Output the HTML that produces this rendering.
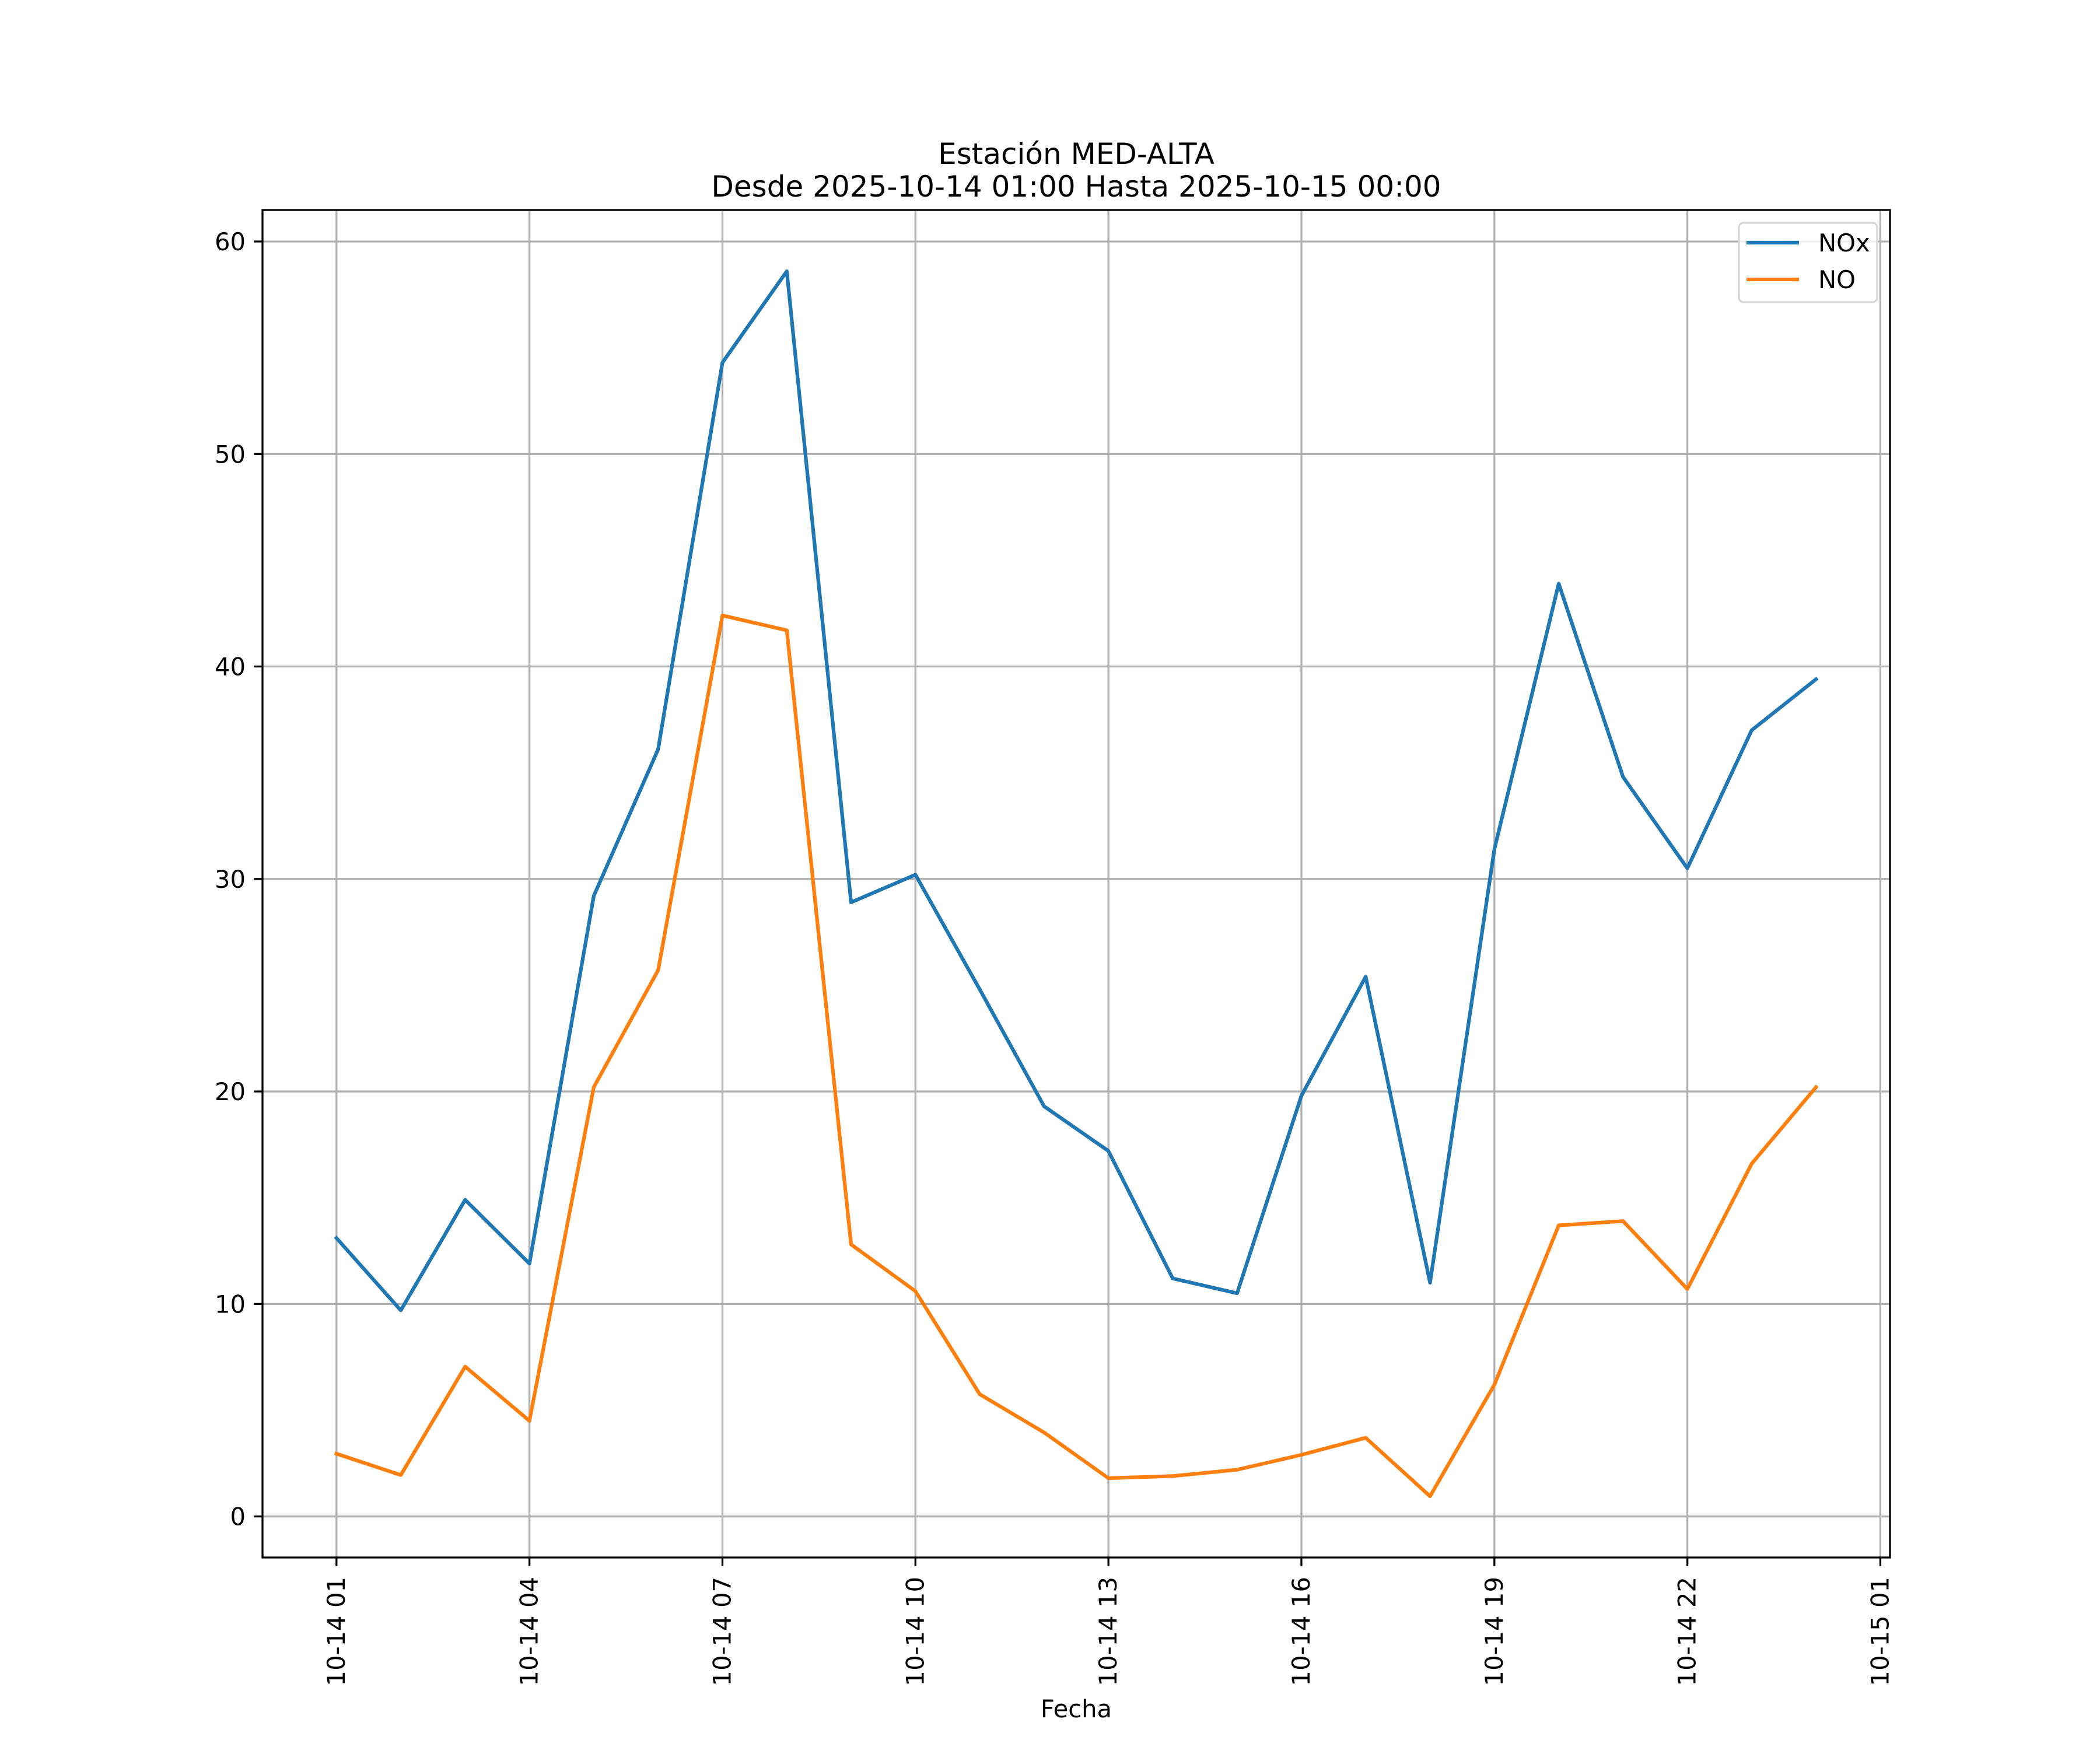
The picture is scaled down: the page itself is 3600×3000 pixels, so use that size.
<!DOCTYPE html>
<html><head><meta charset="utf-8"><style>
html,body{margin:0;padding:0;background:#fff;}
svg{display:block;font-family:"DejaVu Sans","Liberation Sans",sans-serif;}
</style></head><body>
<svg id="chart" width="3600" height="3000" viewBox="0 0 3600 3000" xmlns="http://www.w3.org/2000/svg">
<rect width="3600" height="3000" fill="#fff"/>
<text x="1845" y="281" font-size="50" text-anchor="middle">Estación MED-ALTA</text>
<text x="1845" y="337" font-size="50" text-anchor="middle">Desde 2025-10-14 01:00 Hasta 2025-10-15 00:00</text>
<g id="grid"></g>
<g id="series"></g>
<g id="axes"></g>
<text x="1845" y="2944" font-size="41.7" text-anchor="middle">Fecha</text>
<g>
<rect x="2981" y="382" width="237" height="136" rx="8" fill="#fff" fill-opacity="0.8" stroke="#d6d6d6" stroke-width="3.3"/>
<line x1="2994" y1="416" x2="3084" y2="416" stroke="#1f77b4" stroke-width="6.25"/>
<text x="3117" y="431" font-size="41.7">NOx</text>
<line x1="2994" y1="479" x2="3084" y2="479" stroke="#ff7f0e" stroke-width="6.25"/>
<text x="3117" y="494" font-size="41.7">NO</text>
</g>
</svg>
<script>
const hours = [1,2,3,4,5,6,7,8,9,10,11,12,13,14,15,16,17,18,19,20,21,22,23,24];
const noxValues = [13.1,9.7,14.9,11.9,29.2,36.1,54.3,58.6,28.9,30.2,24.8,19.3,17.2,11.2,10.5,19.8,25.4,11.0,31.4,43.9,34.8,30.5,37.0,39.4];
const noValues = [2.95,1.95,7.05,4.5,20.2,25.7,42.4,41.7,12.8,10.6,5.75,3.95,1.8,1.9,2.2,2.9,3.7,0.95,6.2,13.7,13.9,10.7,16.6,20.2];
const xTickHours = [1,4,7,10,13,16,19,22,25];
const xTickLabels = ["10-14 01","10-14 04","10-14 07","10-14 10","10-14 13","10-14 16","10-14 19","10-14 22","10-15 01"];
const yTicks = [0,10,20,30,40,50,60];

const NS = "http://www.w3.org/2000/svg";
const L = 450, R = 3240, T = 360, B = 2670;
const xmin0 = Math.min(...hours), xmax0 = Math.max(...hours);
const xm = (xmax0 - xmin0) * 0.05;
const xmin = xmin0 - xm, xmax = xmax0 + xm;
const all = noxValues.concat(noValues);
const ymin0 = Math.min(...all), ymax0 = Math.max(...all);
const ym = (ymax0 - ymin0) * 0.05;
const ymin = ymin0 - ym, ymax = ymax0 + ym;
function xs(v){ return L + (v - xmin) / (xmax - xmin) * (R - L); }
function ys(v){ return B - (v - ymin) / (ymax - ymin) * (B - T); }
function mk(tag, attrs, parent){ const e = document.createElementNS(NS, tag); for (const k in attrs) e.setAttribute(k, attrs[k]); parent.appendChild(e); return e; }

const grid = document.getElementById('grid');
const axes = document.getElementById('axes');
const series = document.getElementById('series');

xTickHours.forEach((h, i) => {
  const x = xs(h);
  if (x <= R) {
    const g = mk('line', {x1:x, y1:T, x2:x, y2:B, stroke:'#b0b0b0', 'stroke-width':3.3}, grid);
    
    
  }
  const t = mk('line', {x1:x, y1:B, x2:x, y2:B+14.6, stroke:'#000', 'stroke-width':3.3}, axes);
  
  
  const lb = mk('text', {x:0, y:0, 'font-size':41.7, 'text-anchor':'end', transform:`translate(${x+14},${B+33}) rotate(-90)`}, axes);
  lb.textContent = xTickLabels[i];
  
  
});
yTicks.forEach(v => {
  const y = ys(v);
  const g = mk('line', {x1:L, y1:y, x2:R, y2:y, stroke:'#b0b0b0', 'stroke-width':3.3}, grid);
  
  
  const t = mk('line', {x1:L-14.6, y1:y, x2:L, y2:y, stroke:'#000', 'stroke-width':3.3}, axes);
  
  
  const lb = mk('text', {x:L-29, y:y+15, 'font-size':41.7, 'text-anchor':'end'}, axes);
  lb.textContent = String(v);
  
  
});
const frame = mk('rect', {x:L, y:T, width:R-L, height:B-T, fill:'none', stroke:'#000', 'stroke-width':3.3}, axes);



function line(vals, color, name){
  const d = vals.map((v,i) => (i ? 'L' : 'M') + xs(hours[i]).toFixed(1) + ',' + ys(v).toFixed(1)).join(' ');
  const p = mk('path', {d:d, fill:'none', stroke:color, 'stroke-width':6.25, 'stroke-linejoin':'round', 'stroke-linecap':'square'}, series);
  
  
}
line(noxValues, '#1f77b4', 'nox-line');
line(noValues, '#ff7f0e', 'no-line');
</script>
</body></html>
